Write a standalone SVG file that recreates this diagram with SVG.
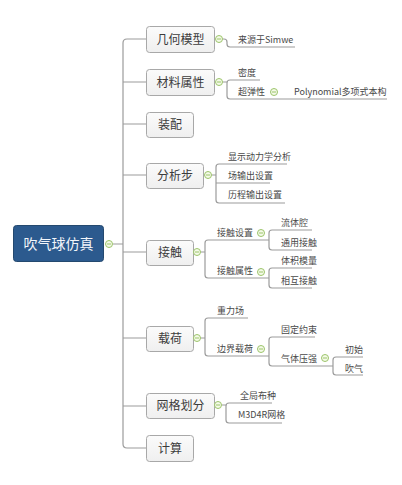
<svg xmlns="http://www.w3.org/2000/svg" width="402" height="485" viewBox="0 0 402 485">
<defs>
<linearGradient id="g" x1="0" y1="0" x2="0" y2="1"><stop offset="0" stop-color="#fbfbfb"/><stop offset="1" stop-color="#efefef"/></linearGradient>
<style>
.box{fill:url(#g);stroke:#a8a8a8;stroke-width:1}
.t{font-family:"Noto Sans CJK SC","Liberation Sans",sans-serif;fill:#3c3c3c;font-size:12px;text-anchor:middle}
.s{font-family:"Noto Sans CJK SC","Liberation Sans",sans-serif;fill:#484848;font-size:9px}
.ln{fill:none;stroke:#9c9c9c;stroke-width:1.2}
.c{fill:#f4fae8;stroke:#9cc46a;stroke-width:1}
.m{stroke:#9cc46a;stroke-width:1}
</style>
</defs>
<rect width="402" height="485" fill="#fff"/>
<g id="connectors">
<path class="ln" d="M146,39 H127 Q123,39 123,43 V444 Q123,448 127,448 H146 M123,82 H146 M123,124 H146 M123,175 H146 M123,252 H146 M123,338 H146 M123,406 H146 M113,244 H123"/>
<path class="ln" d="M222.5,39 H224 Q227,39 227,42 V44 Q227,47 230,47 H295"/>
<path class="ln" d="M222.5,82 H227 M260,80 H230 Q227,80 227,83 V96 Q227,99 230,99 H387"/>
<path class="ln" d="M211.5,175 H216 M287,164 H219 Q216,164 216,167 V200 Q216,203 219,203 H285 M216,183 H270"/>
<path class="ln" d="M200.5,252 H205 M269,240 H208 Q205,240 205,243 V275 Q205,278 208,278 H269"/>
<path class="ln" d="M312,230 H272 Q269,230 269,233 V247 Q269,250 272,250 H312 M312,268 H272 Q269,268 269,271 V285 Q269,288 272,288 H312"/>
<path class="ln" d="M200.5,338 H205 M248,318 H208 Q205,318 205,321 V353 Q205,356 208,356 H269"/>
<path class="ln" d="M315,337 H272 Q269,337 269,340 V363 Q269,366 272,366 H333 M363,357 H336 Q333,357 333,360 V372 Q333,375 336,375 H363"/>
<path class="ln" d="M221.5,405 H226 M272,403 H229 Q226,403 226,406 V420 Q226,423 229,423 H282"/>
</g>
<g id="root">
<rect x="13.5" y="225.5" width="90" height="36" rx="3" fill="#2c5a8e" stroke="#24496f"/>
<text x="58.5" y="249" class="t" style="fill:#f2f5fa;font-size:14px">吹气球仿真</text>
<circle class="c" cx="109" cy="244" r="3.5"/><path class="m" d="M107,244 H111"/>
</g>
<g id="n1">
<rect class="box" x="146.5" y="26.5" width="68" height="26" rx="3"/>
<text class="t" x="180.5" y="43.5">几何模型</text>
<circle class="c" cx="219" cy="39" r="3.5"/><path class="m" d="M217,39 H221"/>
<text class="s" x="238" y="43">来源于Simwe</text>
</g>
<g id="n2">
<rect class="box" x="146.5" y="69.5" width="68" height="26" rx="3"/>
<text class="t" x="180.5" y="86.5">材料属性</text>
<circle class="c" cx="219" cy="82" r="3.5"/><path class="m" d="M217,82 H221"/>
<text class="s" x="238" y="76">密度</text>
<text class="s" x="238" y="95">超弹性</text>
<circle class="c" cx="274" cy="92" r="3.5"/><path class="m" d="M272,92 H276"/>
<text class="s" x="294" y="95">Polynomial多项式本构</text>
</g>
<g id="n3">
<rect class="box" x="146.5" y="112.5" width="47" height="25" rx="3"/>
<text class="t" x="170" y="129">装配</text>
</g>
<g id="n4">
<rect class="box" x="146.5" y="163.5" width="57" height="25" rx="3"/>
<text class="t" x="175" y="180">分析步</text>
<circle class="c" cx="208" cy="175" r="3.5"/><path class="m" d="M206,175 H210"/>
<text class="s" x="228" y="160">显示动力学分析</text>
<text class="s" x="228" y="179">场输出设置</text>
<text class="s" x="228" y="198">历程输出设置</text>
</g>
<g id="n5">
<rect class="box" x="146.5" y="240.5" width="47" height="25" rx="3"/>
<text class="t" x="170" y="257">接触</text>
<circle class="c" cx="197" cy="252" r="3.5"/><path class="m" d="M195,252 H199"/>
<text class="s" x="217" y="236">接触设置</text>
<circle class="c" cx="261" cy="233" r="3.5"/><path class="m" d="M259,233 H263"/>
<text class="s" x="281" y="226">流体腔</text>
<text class="s" x="281" y="246">通用接触</text>
<text class="s" x="217" y="274">接触属性</text>
<circle class="c" cx="261" cy="272" r="3.5"/><path class="m" d="M259,272 H263"/>
<text class="s" x="281" y="264">体积模量</text>
<text class="s" x="281" y="284">相互接触</text>
</g>
<g id="n6">
<rect class="box" x="146.5" y="326.5" width="47" height="25" rx="3"/>
<text class="t" x="170" y="343">载荷</text>
<circle class="c" cx="197" cy="338" r="3.5"/><path class="m" d="M195,338 H199"/>
<text class="s" x="217" y="314">重力场</text>
<text class="s" x="217" y="352">边界载荷</text>
<circle class="c" cx="261" cy="349" r="3.5"/><path class="m" d="M259,349 H263"/>
<text class="s" x="281" y="333">固定约束</text>
<text class="s" x="281" y="362">气体压强</text>
<circle class="c" cx="325" cy="358" r="3.5"/><path class="m" d="M323,358 H327"/>
<text class="s" x="345" y="353">初始</text>
<text class="s" x="345" y="372">吹气</text>
</g>
<g id="n7">
<rect class="box" x="146.5" y="393.5" width="68" height="25" rx="3"/>
<text class="t" x="180.5" y="410">网格划分</text>
<circle class="c" cx="218" cy="405" r="3.5"/><path class="m" d="M216,405 H220"/>
<text class="s" x="240" y="399">全局布种</text>
<text class="s" x="238" y="418">M3D4R网格</text>
</g>
<g id="n8">
<rect class="box" x="146.5" y="435.5" width="47" height="26" rx="3"/>
<text class="t" x="170" y="452.5">计算</text>
</g>
</svg>
